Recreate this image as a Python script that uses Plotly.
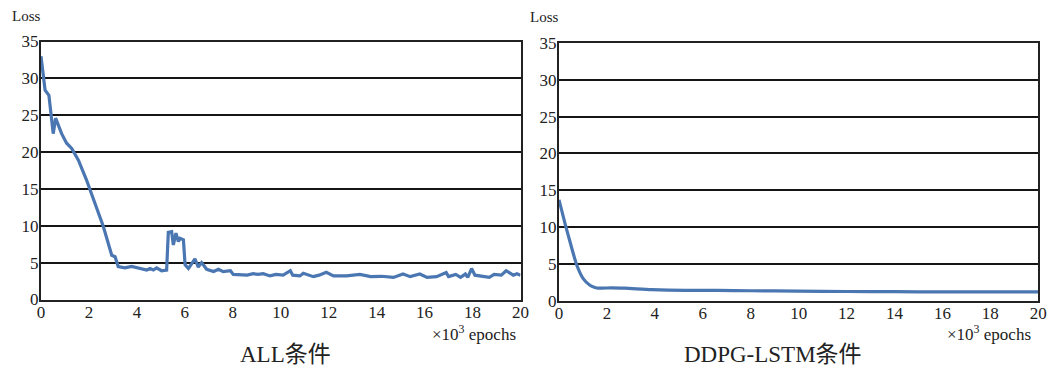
import plotly.graph_objects as go

# ---- data (x in 10^3 epochs) ----
all_x = [0, 0.17, 0.33, 0.51, 0.61, 0.86, 1.07, 1.28, 1.56, 1.9, 2.2, 2.46, 2.6, 2.95, 3.09,
         3.22, 3.5, 3.78, 4.1, 4.41, 4.55, 4.69, 4.82, 5.03, 5.24, 5.31, 5.45, 5.52, 5.63,
         5.73, 5.8, 5.94, 6.01, 6.15, 6.42, 6.56, 6.7, 6.91, 7.2, 7.4, 7.6, 7.9, 8.02, 8.3,
         8.6, 8.85, 9.05, 9.27, 9.55, 9.8, 10.1, 10.4, 10.5, 10.8, 10.94, 11.36, 11.6, 11.9,
         12.2, 12.75, 13.3, 13.75, 14.2, 14.7, 15.1, 15.4, 15.8, 16.1, 16.5, 16.9, 17.0,
         17.3, 17.5, 17.7, 17.8, 17.96, 18.1, 18.5, 18.7, 18.9, 19.2, 19.4, 19.7, 19.85, 20]
all_loss = [33.0, 28.4, 27.7, 22.5, 24.6, 22.5, 21.2, 20.5, 18.9, 16.2, 13.5, 11.2, 9.9, 6.0,
            5.8, 4.45, 4.3, 4.5, 4.3, 4.0, 4.2, 4.0, 4.3, 3.9, 4.0, 9.1, 9.2, 7.4, 9.0, 7.85,
            8.3, 8.1, 4.7, 4.2, 5.5, 4.4, 5.0, 4.1, 3.8, 4.1, 3.77, 3.9, 3.4, 3.4, 3.3, 3.5,
            3.4, 3.5, 3.2, 3.4, 3.3, 3.9, 3.3, 3.2, 3.55, 3.1, 3.3, 3.7, 3.2, 3.2, 3.4, 3.1,
            3.15, 3.0, 3.45, 3.1, 3.45, 3.0, 3.1, 3.65, 3.1, 3.4, 3.0, 3.45, 3.0, 4.2, 3.3,
            3.1, 3.0, 3.4, 3.3, 3.9, 3.3, 3.5, 3.3]

lstm_x = [0, 0.25, 0.46, 0.74, 1.01, 1.29, 1.5, 1.64, 2.2, 2.75, 3.86, 5.25, 6.6, 8.0, 9.95,
          12, 14, 16, 18, 20]
lstm_loss = [13.7, 10.5, 8.0, 4.85, 3.0, 2.1, 1.8, 1.7, 1.75, 1.7, 1.5, 1.4, 1.4, 1.35, 1.3,
             1.25, 1.22, 1.2, 1.2, 1.2]

x_ticks = list(range(0, 21, 2))
y_ticks = list(range(0, 36, 5))
titles = ["ALL条件", "DDPG-LSTM条件"]

W, H = 1047, 367
FONT = "'Liberation Serif', 'Times New Roman', 'Noto Sans CJK SC', serif"
LINE_COLOR = "#4A76B1"

fig = go.Figure()
fig.add_trace(go.Scatter(x=all_x, y=all_loss, mode="lines", xaxis="x", yaxis="y",
                         line=dict(color=LINE_COLOR, width=3.2), showlegend=False))
fig.add_trace(go.Scatter(x=lstm_x, y=lstm_loss, mode="lines", xaxis="x2", yaxis="y2",
                         line=dict(color=LINE_COLOR, width=3.2, shape="spline", smoothing=0.6),
                         showlegend=False))

def xa(domain, anchor):
    return dict(domain=domain, anchor=anchor, range=[0, 20], tickvals=x_ticks,
                showgrid=False, zeroline=False, showline=True, mirror=True,
                linecolor="#222", linewidth=2, ticks="", automargin=False,
                ticklabelstandoff=-4,
                tickfont=dict(family=FONT, size=17, color="#222"))

def ya(domain, anchor):
    return dict(domain=domain, anchor=anchor, range=[0, 35], tickvals=y_ticks,
                showgrid=True, gridcolor="#151515", gridwidth=1.6, zeroline=False,
                showline=True, mirror=True, linecolor="#222", linewidth=2, ticks="",
                automargin=False, ticklabelstandoff=-3,
                tickfont=dict(family=FONT, size=17, color="#222"))

fig.update_layout(
    width=W, height=H, margin=dict(l=0, r=0, t=0, b=0, autoexpand=False),
    paper_bgcolor="white", plot_bgcolor="white",
    font=dict(family=FONT, color="#222"),
    xaxis=xa([41 / W, 520.5 / W], "y"),
    yaxis=ya([1 - 299.5 / H, 1 - 41.5 / H], "x"),
    xaxis2=xa([559 / W, 1038.3 / W], "y2"),
    yaxis2=ya([1 - 300.7 / H, 1 - 43 / H], "x2"),
)

def ann(text, px, py, size, xanchor="center"):
    fig.add_annotation(text=text, x=px / W, y=1 - py / H, xref="paper", yref="paper",
                       xanchor=xanchor, yanchor="middle", showarrow=False,
                       font=dict(family=FONT, size=size, color="#222"))

ann("Loss", 10, 16, 15, "left")
ann("Loss", 528, 17, 15, "left")
ann("×10<sup>3</sup> epochs", 518, 333, 17, "right")
ann("×10<sup>3</sup> epochs", 1033, 333, 17, "right")
ann(titles[0], 285.5, 354, 23)
ann(titles[1], 773, 354, 23)

fig.write_html("out.html", config={"displayModeBar": False},
               post_script="document.body.style.margin='0';document.body.style.overflow='hidden';")
